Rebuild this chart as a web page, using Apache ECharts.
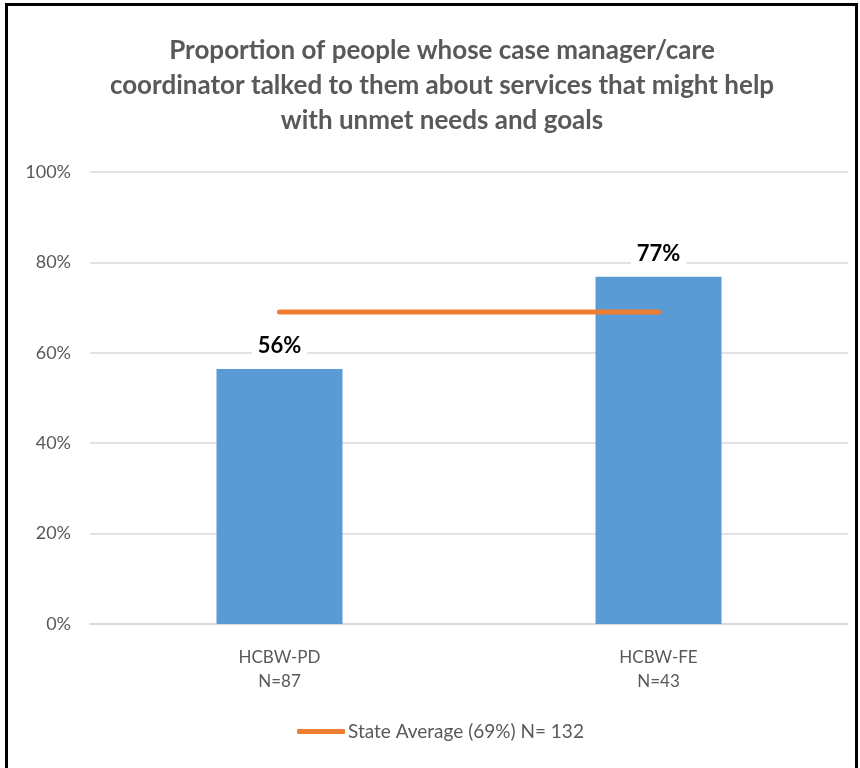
<!DOCTYPE html>
<html lang="en">

<head>
    <meta charset="UTF-8">
    <script src="https://cdn.jsdelivr.net/npm/echarts@6/dist/echarts.min.js"></script>
    <title>Document</title>
    <style>
        body { margin: 0; background: #fff; }
        #frame { position: absolute; left: 5px; top: 3px; width: 853px; height: 780px; border: 3px solid #000; box-sizing: border-box; }
        #main { position: absolute; left: 0; top: 0; width: 860px; height: 768px; }
    </style>
</head>

<body>
    <div id="frame"></div>
    <div id="main"></div>

    <script>
        var categories = ['HCBW-PD\nN=87', 'HCBW-FE\nN=43'];
        var proportions = [56.4, 76.8];
        var stateAverage = [69, 69];
        var yTicks = [0, 20, 40, 60, 80, 100];

        var myChart = echarts.init(document.getElementById('main'));
        var option = {
            title: {
                text: 'Proportion of people whose case manager/care\ncoordinator talked to them about services that might help\nwith unmet needs and goals',
                left: 437,
                textAlign: 'center',
                top: 28,
                textStyle: {
                    fontFamily: 'Lato',
                    fontWeight: 'bold',
                    fontSize: 26,
                    lineHeight: 35,
                    color: '#595959'
                }
            },
            legend: {
                bottom: 22,
                left: 292,
                itemWidth: 48,
                itemHeight: 5,
                itemGap: 0,
                selectedMode: false,
                data: [{ name: 'State Average (69%) N= 132', icon: 'roundRect' }],
                textStyle: { fontFamily: 'Lato', fontSize: 19, color: '#595959', padding: [0, 0, 0, -2] }
            },
            grid: { left: 90, right: 12, top: 172, bottom: 144 },
            xAxis: {
                type: 'category',
                data: categories,
                axisLine: { lineStyle: { color: '#d9d9d9', width: 1.5 } },
                axisTick: { show: false },
                axisLabel: { color: '#595959', fontFamily: 'Lato', fontSize: 17, lineHeight: 24, margin: 22 }
            },
            yAxis: {
                type: 'value',
                min: yTicks[0],
                max: yTicks[yTicks.length - 1],
                interval: 20,
                axisLine: { show: false },
                axisTick: { show: false },
                splitLine: { lineStyle: { color: '#d9d9d9', width: 1.5 } },
                axisLabel: { color: '#595959', fontFamily: 'Lato', fontSize: 18, margin: 19, formatter: '{value}%' }
            },
            series: [
                {
                    name: 'Proportion',
                    type: 'bar',
                    data: proportions,
                    barWidth: 126,
                    itemStyle: { color: '#5b9bd5' },
                    label: {
                        show: true,
                        position: 'top',
                        distance: 12,
                        formatter: function (p) { return Math.round(p.value) + '%'; },
                        fontFamily: 'Lato',
                        fontWeight: 'bold',
                        fontSize: 22,
                        color: '#000',
                        backgroundColor: '#fff',
                        padding: [0, 6]
                    },
                    z: 2
                },
                {
                    name: 'State Average (69%) N= 132',
                    type: 'line',
                    data: stateAverage,
                    symbol: 'none',
                    itemStyle: { color: '#ed7d31' },
                    lineStyle: { color: '#ed7d31', width: 5, cap: 'round' },
                    z: 3
                }
            ]
        };
        myChart.setOption(option);
    </script>
</body>

</html>
